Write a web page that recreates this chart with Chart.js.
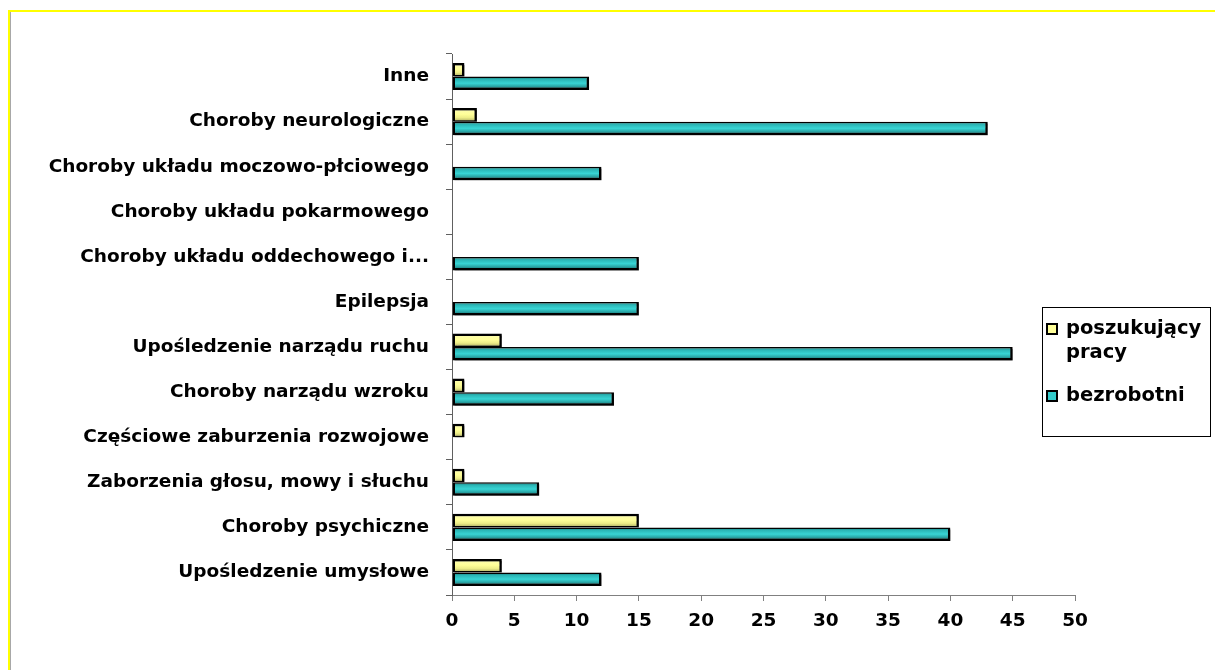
<!DOCTYPE html>
<html><head><meta charset="utf-8">
<script src="https://cdn.jsdelivr.net/npm/chart.js@4/dist/chart.umd.min.js"></script>
<style>html,body{margin:0;padding:0;background:#fff}#wrap{width:1215px;height:670px;position:relative}</style>
</head><body><div id="wrap"><canvas id="c" width="1215" height="670"></canvas></div>
<script>
const categories = ["Inne","Choroby neurologiczne","Choroby układu moczowo-płciowego","Choroby układu pokarmowego","Choroby układu oddechowego i...","Epilepsja","Upośledzenie narządu ruchu","Choroby narządu wzroku","Częściowe zaburzenia rozwojowe","Zaborzenia głosu, mowy i słuchu","Choroby psychiczne","Upośledzenie umysłowe"];
const seriesNames = [["poszukujący","pracy"],["bezrobotni"]];
const poszukujacy = [1,2,0,0,0,0,4,1,1,1,15,4];
const bezrobotni = [11,43,12,0,15,15,45,13,0,7,40,12];
const xTicks = [0,5,10,15,20,25,30,35,40,45,50];

const FONT = "DejaVu Sans";
const CAT_PCT = 0.6;
const stopsY = [[0,'#fbfbb4'],[0.45,'#ffff99'],[0.7,'#eeee88'],[1,'#a8a860']];
const stopsT = [[0,'#126262'],[0.2,'#2ab4b4'],[0.5,'#38d4d4'],[0.72,'#2aa8a8'],[1,'#105a5a']];
const baseCol = ['#ffff99','#33cccc'];

function grad(c){
  const chart=c.chart, ds=c.datasetIndex;
  const stops = ds===0?stopsY:stopsT;
  if(c.type!=='data' || !chart.chartArea) return baseCol[ds];
  const y=chart.scales.y;
  const center=y.getPixelForValue(c.dataIndex);
  const cat=Math.abs(y.getPixelForValue(1)-y.getPixelForValue(0));
  const bh=cat*CAT_PCT/2;
  const top=center-cat*CAT_PCT/2+ds*bh;
  const g=chart.ctx.createLinearGradient(0,top,0,top+bh);
  stops.forEach(s=>g.addColorStop(s[0],s[1]));
  return g;
}

const shadowPlugin={id:'shadow',
  beforeDatasetsDraw(chart){const ctx=chart.ctx;ctx.save();ctx.shadowColor='rgba(0,0,0,0.5)';ctx.shadowOffsetX=2;ctx.shadowOffsetY=2;ctx.shadowBlur=1;},
  afterDatasetsDraw(chart){chart.ctx.restore();}
};
const framePlugin={id:'frame',
  beforeDraw(chart){const ctx=chart.ctx;ctx.save();
    ctx.fillStyle='#fff';ctx.fillRect(0,0,chart.width,chart.height);
    ctx.fillStyle='#ffff00';ctx.fillRect(8,10,chart.width-8,2);ctx.fillRect(8,10,2,chart.height-10);
    ctx.fillStyle='#a8a8a8';ctx.fillRect(10,12,1,chart.height-12);
    ctx.restore();}
};
const legendPlugin={id:'customLegend',
  afterDraw(chart){const ctx=chart.ctx;ctx.save();
    ctx.strokeStyle='#000';ctx.lineWidth=1;ctx.strokeRect(1042.5,307.5,168,129);
    ctx.font='bold 19.5px "'+FONT+'"';ctx.textBaseline='middle';ctx.textAlign='left';ctx.fillStyle='#000';
    const rows=[[329,353],[396]];
    chart.data.datasets.forEach((d,i)=>{
      const y0=rows[i][0];
      ctx.fillStyle=baseCol[i];ctx.fillRect(1047,y0-5,10,10);
      ctx.strokeStyle='#000';ctx.lineWidth=2;ctx.strokeRect(1047,y0-5,10,10);
      ctx.fillStyle='#000';
      d.label.forEach((t,k)=>ctx.fillText(t,1066,rows[i][k]));
    });
    ctx.restore();}
};

new Chart(document.getElementById('c'),{
  type:'bar',
  data:{labels:categories,datasets:[
    {label:seriesNames[0],data:poszukujacy,backgroundColor:grad,borderColor:'#000',
     borderWidth:c=>c.raw===0?0:{top:2.5,left:2.5,right:2.5,bottom:1.5},borderSkipped:false},
    {label:seriesNames[1],data:bezrobotni,backgroundColor:grad,borderColor:'#000',
     borderWidth:c=>c.raw===0?0:{top:1.5,left:2.5,right:2.5,bottom:2.5},borderSkipped:false}
  ]},
  options:{
    indexAxis:'y',responsive:false,animation:false,
    devicePixelRatio:1,
    datasets:{bar:{categoryPercentage:CAT_PCT,barPercentage:1}},
    layout:{padding:{top:54,right:140,bottom:0,left:0}},
    plugins:{legend:{display:false},tooltip:{enabled:false}},
    scales:{
      x:{min:0,max:50,
        afterBuildTicks(s){s.ticks=xTicks.map(v=>({value:v}));},
        afterFit(s){s.height=75;},
        border:{display:true,color:'#808080',width:1},
        grid:{drawOnChartArea:false,drawTicks:true,tickLength:6,color:'#808080'},
        ticks:{color:'#000',padding:9,font:{family:FONT,size:18.5,weight:'bold'}}},
      y:{
        afterFit(s){s.width=452;},
        border:{display:true,color:'#606060',width:1},
        grid:{drawOnChartArea:false,drawTicks:true,tickLength:6,color:'#606060',offset:true},
        ticks:{color:'#000',padding:17,font:{family:FONT,size:18.5,weight:'bold'},autoSkip:false}}
    }
  },
  plugins:[framePlugin,shadowPlugin,legendPlugin]
});
</script></body></html>
